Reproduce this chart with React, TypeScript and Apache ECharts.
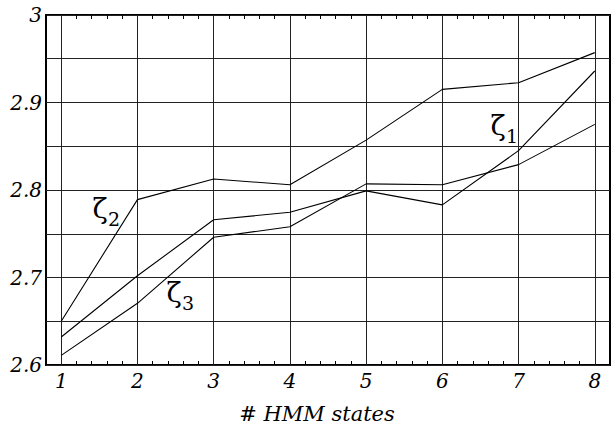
import React, { useEffect, useRef } from "react";
import * as echarts from "echarts";

// Number of HMM states on the horizontal axis
const states = [1, 2, 3, 4, 5, 6, 7, 8];
// Curves for the three zeta measures
const zeta1 = [2.632, 2.702, 2.766, 2.7745, 2.799, 2.783, 2.845, 2.936];
const zeta2 = [2.65, 2.789, 2.8126, 2.806, 2.857, 2.915, 2.9226, 2.957];
const zeta3 = [2.611, 2.6705, 2.746, 2.758, 2.807, 2.806, 2.829, 2.875];
const xTitle = "# HMM states";

const FONT = "'DejaVu Serif', serif";

const xLabel = (v: number) => {
  const r = Math.round(v);
  return Math.abs(v - r) < 1e-6 && r >= 1 && r <= 8 ? String(r) : "";
};

const yLabel = (v: number) => {
  const h = Math.round(v * 100);
  if (h % 10 !== 0) return "";
  const s = (h / 100).toFixed(1);
  return s.endsWith(".0") ? s.slice(0, -2) : s;
};

const lineSeries = (name: string, vals: number[], extra: object = {}) => ({
  name,
  type: "line",
  data: states.map((x, i) => [x, vals[i]]),
  showSymbol: false,
  symbol: "none",
  lineStyle: { color: "#000", width: 1.1 },
  z: 5,
  ...extra,
});

export default function App() {
  const ref = useRef<HTMLDivElement>(null);

  useEffect(() => {
    if (!ref.current) return;
    const chart = echarts.init(ref.current, null, { renderer: "svg" });
    const gridLine = { color: "#222", width: 1, type: "solid" as const };
    const zetaText = (x: number, y: number, sub: string) => [
      {
        type: "text",
        x,
        y,
        style: {
          text: "ζ",
          fontFamily: FONT,
          fontSize: 28,
          fill: "#000",
          align: "center",
          verticalAlign: "middle",
        },
        z: 10,
      },
      {
        type: "text",
        x: x + 14,
        y: y + 11,
        style: {
          text: sub,
          fontFamily: FONT,
          fontSize: 19,
          fill: "#000",
          align: "center",
          verticalAlign: "middle",
        },
        z: 10,
      },
    ];
    const xAxisBase = {
      type: "value",
      min: 0.8,
      max: 8.2,
      interval: 0.2,
      splitLine: { show: false },
      axisLine: { show: false },
      axisTick: { show: true, inside: true, length: 4, lineStyle: { color: "#000", width: 1 } },
    };
    chart.setOption({
      animation: false,
      backgroundColor: "#fff",
      textStyle: { fontFamily: FONT },
      grid: {
        left: 46,
        top: 15,
        width: 569,
        height: 350,
        show: true,
        borderColor: "#000",
        borderWidth: 2,
        backgroundColor: "transparent",
      },
      xAxis: [
        {
          ...xAxisBase,
          position: "bottom",
          axisLabel: {
            formatter: xLabel,
            fontFamily: FONT,
            fontStyle: "italic",
            fontSize: 20,
            color: "#000",
            margin: 6,
            showMinLabel: true,
            showMaxLabel: true,
          },
        },
        {
          ...xAxisBase,
          position: "top",
          axisLabel: { show: false },
        },
      ],
      yAxis: {
        type: "value",
        min: 2.6,
        max: 3,
        interval: 0.05,
        axisLine: { show: false },
        axisTick: { show: false },
        splitLine: { show: true, lineStyle: gridLine },
        axisLabel: {
          formatter: yLabel,
          fontFamily: FONT,
          fontStyle: "italic",
          fontSize: 20,
          color: "#000",
          margin: 4,
        },
      },
      series: [
        lineSeries("ζ1", zeta1),
        lineSeries("ζ2", zeta2, {
          markLine: {
            silent: true,
            symbol: ["none", "none"],
            label: { show: false },
            lineStyle: gridLine,
            data: states.map((x) => ({ xAxis: x })),
            z: 1,
          },
        }),
        lineSeries("ζ3", zeta3),
      ],
      graphic: [
        {
          type: "text",
          x: 317,
          y: 414,
          style: {
            text: xTitle,
            fontFamily: FONT,
            fontStyle: "italic",
            fontSize: 21,
            fill: "#000",
            align: "center",
            verticalAlign: "middle",
          },
        },
        ...zetaText(498, 125, "1"),
        ...zetaText(100, 208, "2"),
        ...zetaText(174, 292, "3"),
      ],
    });
    return () => chart.dispose();
  }, []);

  return (
    <div
      ref={ref}
      style={{ position: "fixed", left: 0, top: 0, width: 613, height: 430, background: "#fff" }}
    />
  );
}
